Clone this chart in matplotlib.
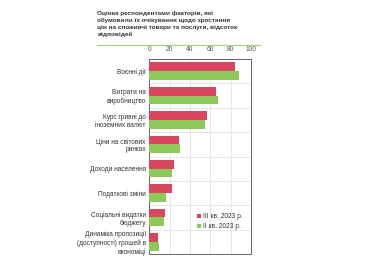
import numpy as np
import matplotlib.pyplot as plt

plt.rcParams['font.family'] = ['Liberation Sans', 'DejaVu Sans']

categories = ['Воєнні дії', 'Витрати на\nвиробництво', 'Курс гривні до\nіноземних валют',
              'Ціни на світових\nринках', 'Доходи населення', 'Податкові зміни',
              'Соціальні видатки\nбюджету', 'Динаміка пропозиції\n(доступності) грошей в\nекономіці']
q3_2023 = [84, 66, 56.5, 29.5, 24, 22, 15.5, 9]
q2_2023 = [88, 67.5, 55, 30.5, 22.5, 16, 14.5, 10]
series_labels = ['III кв. 2023 р.', 'II кв. 2023 р.']
xticks = [0, 20, 40, 60, 80, 100]

red = '#d9475f'
green = '#8dc85a'

fig = plt.figure(figsize=(3.82, 2.74), dpi=100)
ax = fig.add_axes([149.3 / 382, 1 - 254 / 274, (251 - 149.3) / 382, (254 - 59) / 274])

y = np.arange(len(categories))
h = 0.36
ax.barh(y - h / 2, q3_2023, height=h, color=red, label=series_labels[0], zorder=3)
ax.barh(y + h / 2, q2_2023, height=h, color=green, label=series_labels[1], zorder=3)

ax.set_xlim(0, 100)
ax.set_ylim(len(categories) - 0.5, -0.5)
ax.set_xticks(xticks)
ax.xaxis.tick_top()
ax.tick_params(axis='x', length=0, labelsize=4.8, colors='#555555', pad=4)
ax.set_yticks(y)
ax.set_yticklabels(categories, fontsize=4.7, color='#333333', linespacing=1.15)
ax.tick_params(axis='y', length=0, pad=2.5)

# grid: vertical at ticks, horizontal between categories
ax.set_yticks(np.arange(len(categories) + 1) - 0.5, minor=True)
ax.tick_params(axis='y', which='minor', length=0)
ax.grid(axis='x', color='#e2e2e2', linewidth=0.6, zorder=0)
ax.grid(axis='y', which='minor', color='#e2e2e2', linewidth=0.6, zorder=0)
for s in ax.spines.values():
    s.set_color('#666666')
    s.set_linewidth(0.7)

ax.legend(loc='lower right', bbox_to_anchor=(0.98, 0.09), fontsize=4.8, frameon=False,
          handlelength=0.6, handleheight=0.6, handletextpad=0.4, labelspacing=0.5,
          labelcolor='#333333')

fig.text(97 / 382, 1 - 11 / 274,
         'Оцінка респондентами факторів, які\nобумовили їх очікування щодо зростання\n'
         'цін на споживчі товари та послуги, відсоток\nвідповідей',
         fontsize=4.6, fontweight='bold', color='#333333', va='top', ha='left', linespacing=1.45)
fig.add_artist(plt.Line2D([97 / 382, 260 / 382], [1 - 44.5 / 274, 1 - 44.5 / 274],
                          color='#a9d47e', linewidth=0.9))

fig.savefig('out.png', dpi=100)
